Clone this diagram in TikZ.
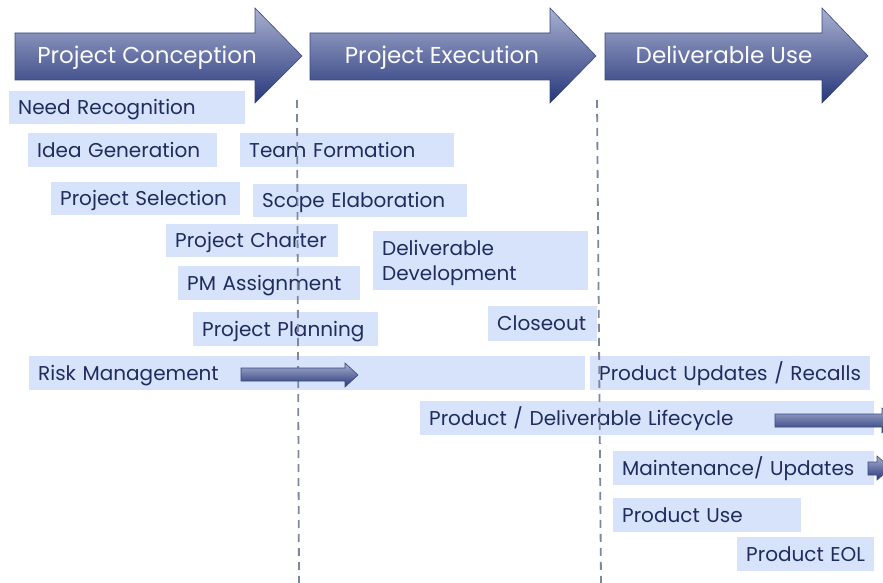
\documentclass[tikz,border=0pt]{standalone}
\usepackage{fontspec}
\setmainfont{Poppins}
\usepackage{xcolor}
\usepackage{tikz}
\usetikzlibrary{arrows.meta}

\definecolor{boxblue}{HTML}{D6E3FB}
\definecolor{txtnavy}{HTML}{1F2C5E}
\definecolor{arrtop}{HTML}{A9B0D0}
\definecolor{arrbot}{HTML}{26377B}
\definecolor{arrline}{HTML}{3A4880}
\definecolor{dashgray}{HTML}{7D879E}

\begin{document}
\begin{tikzpicture}[x=1pt,y=-1pt]
    \tikzstyle{task} = [fill=boxblue,text=txtnavy,anchor=north west,inner xsep=9pt,inner ysep=0pt,
                        align=left,text height=14pt,text depth=0pt,font=\fontsize{20}{25}\selectfont]
    \tikzstyle{phase} = [text=white!95!arrtop,text height=16pt,text depth=0pt,font=\fontsize{23}{27}\selectfont]
    \tikzstyle{blockarrow} = [top color=arrtop,bottom color=arrbot,draw=arrline,line width=0.6pt]
    \tikzstyle{cut} = [dashgray,line width=1.8pt,dash pattern=on 8pt off 6pt]

    \useasboundingbox (0,0) rectangle (883,583);
    \clip (0,0) rectangle (883,583);

    % phase arrows
    \shade[blockarrow] (15,33) -- (255,33) -- (255,8) -- (302,56) -- (255,103) -- (255,80) -- (15,80) -- cycle;
    \shade[blockarrow] (310,33) -- (550,33) -- (550,8) -- (596,56) -- (550,103) -- (550,80) -- (310,80) -- cycle;
    \shade[blockarrow] (605,33) -- (822,33) -- (822,8) -- (868,56) -- (822,103) -- (822,80) -- (605,80) -- cycle;
    \node[phase] (conception) at (147,56) {Project Conception};
    \node[phase] (execution) at (442,56) {Project Execution};
    \node[phase] (use) at (724,56) {Deliverable Use};

    % activities
    \node[task,text width=218pt,minimum height=33pt] (need) at (9,91) {Need Recognition};
    \node[task,text width=171pt,minimum height=34pt] (idea) at (28,133) {Idea Generation};
    \node[task,text width=196pt,minimum height=34pt] (team) at (240,133) {Team Formation};
    \node[task,text width=171pt,minimum height=33pt] (selection) at (51,182) {Project Selection};
    \node[task,text width=196pt,minimum height=33pt] (scope) at (253,184) {Scope Elaboration};
    \node[task,text width=154pt,minimum height=33pt] (charter) at (166,224) {Project Charter};
    \node[task,text width=197pt,minimum height=59pt,text depth=25pt] (deldev) at (373,231) {Deliverable\\Development};
    \node[task,text width=164pt,minimum height=34pt] (pm) at (178,266) {PM Assignment};
    \node[task,text width=167pt,minimum height=34pt] (planning) at (193,312) {Project Planning};
    \node[task,text width=91pt,minimum height=35pt] (closeout) at (488,306) {Closeout};
    \node[task,text width=538pt,minimum height=34pt] (risk) at (29,356) {Risk Management};
    \node[task,text width=262pt,minimum height=34pt] (recalls) at (590,356) {Product Updates / Recalls};
    \node[task,text width=436pt,minimum height=34pt] (lifecycle) at (420,401) {Product / Deliverable Lifecycle};
    \node[task,text width=243pt,minimum height=34pt] (maint) at (613,451) {Maintenance/ Updates};
    \node[task,text width=170pt,minimum height=34pt] (prod use) at (613,498) {Product Use};
    \node[task,text width=119pt,minimum height=34pt] (eol) at (737,537) {Product EOL};

    % phase borders
    \coordinate (cutA top) at (297,100);
    \coordinate (cutA bot) at (299,583);
    \coordinate (cutB top) at (597,100);
    \coordinate (cutB bot) at (601,583);
    \draw[cut] (cutA top) -- (cutA bot);
    \draw[cut] (cutB top) -- (cutB bot);

    % ongoing activities
    \shade[blockarrow] (241,368) -- (345,368) -- (345,363) -- (358,375) -- (345,387) -- (345,381) -- (241,381) -- cycle;
    \shade[blockarrow] (775,414) -- (882,414) -- (882,408) -- (896,420) -- (882,433) -- (882,427) -- (775,427) -- cycle;
    \shade[blockarrow] (868,462) -- (877,462) -- (877,456) -- (891,468) -- (877,480) -- (877,475) -- (868,475) -- cycle;
\end{tikzpicture}
\end{document}
